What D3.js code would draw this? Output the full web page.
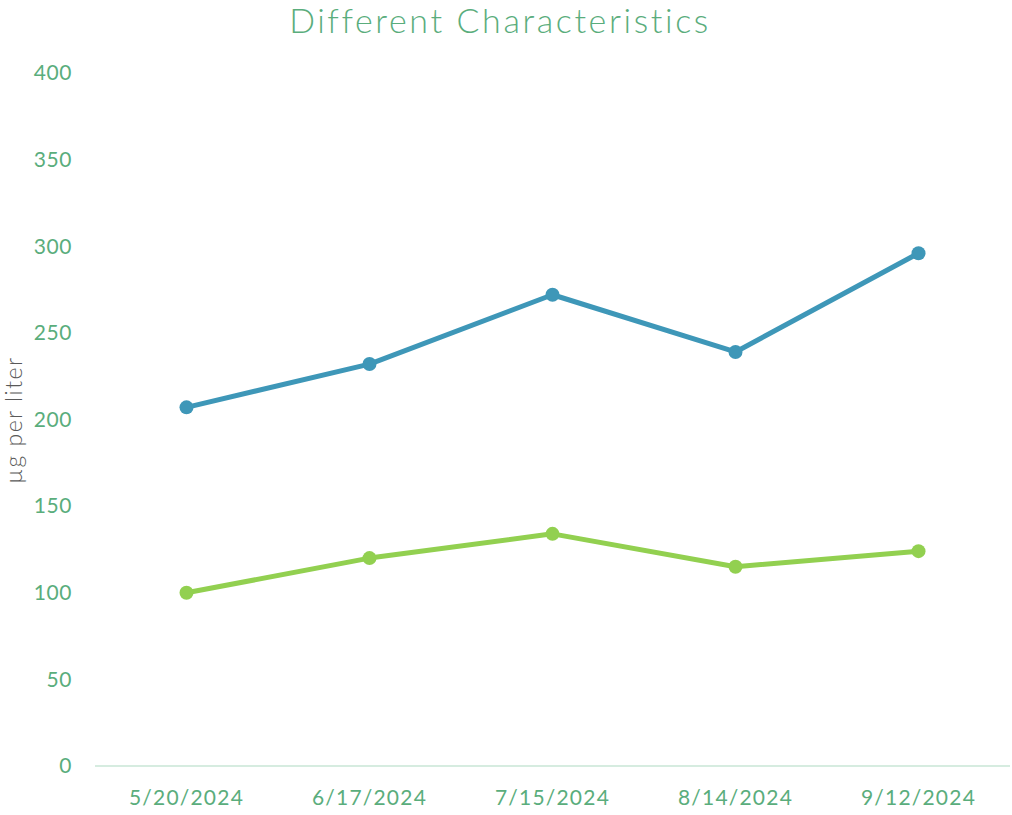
<!DOCTYPE html>
<html>
<head>
<meta charset="utf-8">
<script src="https://cdn.jsdelivr.net/npm/d3@7"></script>
<style>
  body { margin: 0; background: #fff; }
  text { font-family: "Century Gothic", Lato, "DejaVu Sans", sans-serif; }
</style>
</head>
<body>
<div id="chart"></div>
<script>
// Chart data
var dates = ["5/20/2024", "6/17/2024", "7/15/2024", "8/14/2024", "9/12/2024"];
var seriesBlue = [207, 232, 272, 239, 296];
var seriesGreen = [100, 120, 134, 115, 124];
var yTicks = [0, 50, 100, 150, 200, 250, 300, 350, 400];

var width = 1012;
var height = 815;

var svg = d3.select("#chart")
  .append("svg")
  .attr("width", width)
  .attr("height", height);

// Scales
var xScale = d3.scaleBand()
  .domain(dates)
  .range([95, 1010]);

var yScale = d3.scaleLinear()
  .domain([0, 400])
  .range([766, 73]);

var textGreen = "#5aad7c";

// Title
svg.append("text")
  .attr("x", 500)
  .attr("y", 33)
  .attr("text-anchor", "middle")
  .attr("font-size", 34)
  .attr("font-weight", 300)
  .attr("letter-spacing", 2.6)
  .attr("fill", textGreen)
  .text("Different Characteristics");

// Y axis labels
svg.append("g")
  .selectAll("text")
  .data(yTicks)
  .enter()
  .append("text")
  .attr("x", 72)
  .attr("y", function(d) { return yScale(d); })
  .attr("dy", "0.35em")
  .attr("text-anchor", "end")
  .attr("font-size", 21)
  .attr("letter-spacing", 0.6)
  .attr("fill", textGreen)
  .text(function(d) { return d; });

// Y axis title
svg.append("text")
  .attr("transform", "translate(22,420)rotate(-90)")
  .attr("text-anchor", "middle")
  .attr("font-size", 23)
  .attr("font-weight", 300)
  .attr("letter-spacing", 1.5)
  .attr("fill", "#595959")
  .text("µg per liter");

// X axis line
svg.append("line")
  .attr("x1", 95)
  .attr("x2", 1010)
  .attr("y1", yScale(0))
  .attr("y2", yScale(0))
  .attr("stroke", "#d6ece0")
  .attr("stroke-width", 2);

// X axis labels
svg.append("g")
  .selectAll("text")
  .data(dates)
  .enter()
  .append("text")
  .attr("x", function(d) { return xScale(d) + xScale.bandwidth() / 2; })
  .attr("y", 805)
  .attr("text-anchor", "middle")
  .attr("font-size", 21)
  .attr("letter-spacing", 1.2)
  .attr("fill", textGreen)
  .text(function(d) { return d; });

// Lines and markers
var line = d3.line()
  .x(function(d, i) { return xScale(dates[i]) + xScale.bandwidth() / 2; })
  .y(function(d) { return yScale(d); });

function drawSeries(values, color) {
  svg.append("path")
    .datum(values)
    .attr("d", line)
    .attr("fill", "none")
    .attr("stroke", color)
    .attr("stroke-width", 5)
    .attr("stroke-linejoin", "round");

  svg.append("g")
    .selectAll("circle")
    .data(values)
    .enter()
    .append("circle")
    .attr("cx", function(d, i) { return xScale(dates[i]) + xScale.bandwidth() / 2; })
    .attr("cy", function(d) { return yScale(d); })
    .attr("r", 7)
    .attr("fill", color);
}

drawSeries(seriesBlue, "#3e97b8");
drawSeries(seriesGreen, "#92d050");
</script>
</body>
</html>
